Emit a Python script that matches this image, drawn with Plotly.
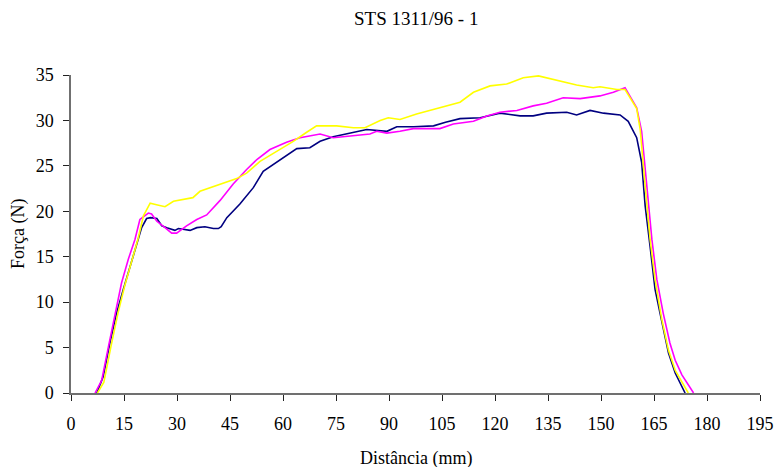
import plotly.graph_objects as go

# Force vs. distance for three specimens of STS 1311/96 - 1
navy_x = [7.3, 9.1, 11.0, 12.9, 14.8, 16.7, 18.6, 20.0, 21.4, 22.5, 24.3, 25.7, 27.1, 29.4, 30.4,
          33.7, 35.6, 37.9, 40.3, 41.7, 42.5, 44.1, 47.8, 51.6, 54.4, 59.2, 63.9, 67.6, 70.5, 74.2,
          79.9, 83.7, 89.4, 92.2, 97.0, 102.6, 106.0, 110.1, 115.8, 121.4, 127.1, 130.8, 134.6,
          140.3, 143.1, 146.9, 150.7, 155.4, 157.7, 160.1, 161.5, 162.5, 163.9, 165.3, 166.7,
          169.1, 171.0, 173.8]
navy_y = [0, 1.8, 5.5, 8.8, 11.4, 13.9, 16.5, 18.2, 19.2, 19.3, 19.2, 18.4, 18.2, 17.9, 18.1,
          17.9, 18.2, 18.3, 18.1, 18.1, 18.3, 19.3, 20.8, 22.6, 24.4, 25.7, 26.9, 27.0, 27.7, 28.2,
          28.7, 29.0, 28.8, 29.3, 29.3, 29.4, 29.8, 30.2, 30.3, 30.8, 30.5, 30.5, 30.8,
          30.9, 30.6, 31.1, 30.8, 30.6, 29.9, 28.1, 25.4, 20.6, 16.1, 11.4, 8.8,
          4.4, 2.2, 0]

magenta_x = [6.8, 8.7, 10.6, 12.5, 14.3, 16.2, 18.1, 19.5, 21.9, 22.8, 24.3, 26.6, 28.5, 29.9,
             32.7, 35.6, 38.4, 42.2, 45.9, 49.7, 52.6, 56.3, 61.0, 64.8, 70.5, 74.2, 79.9, 84.6,
             86.5, 89.4, 93.1, 96.9, 104.4, 108.2, 113.9, 117.7, 121.4, 126.2, 130.8, 134.6,
             139.3, 144.1, 149.7, 153.5, 156.8, 160.1, 161.5, 162.9, 164.4, 165.8, 167.6, 169.5,
             171.0, 172.9, 176.2]
magenta_y = [0, 1.4, 5.1, 8.8, 12.1, 14.7, 16.9, 19.1, 19.8, 19.7, 18.9, 18.2, 17.6, 17.6,
             18.4, 19.1, 19.6, 21.2, 23.0, 24.6, 25.7, 26.8, 27.6, 28.1, 28.5, 28.1, 28.3, 28.5,
             28.8, 28.6, 28.8, 29.1, 29.1, 29.6, 29.9, 30.5, 30.9, 31.1, 31.6, 31.9,
             32.5, 32.4, 32.7, 33.1, 33.6, 31.4, 28.8, 22.8, 16.9, 12.5, 8.8, 5.5,
             3.6, 2.0, 0]

yellow_x = [7.5, 9.3, 11.3, 13.3, 15.2, 17.1, 19.0, 20.5, 22.4, 24.5, 26.6, 29.0, 32.7, 34.5,
            36.5, 41.2, 44.1, 46.9, 49.7, 53.5, 58.2, 62.9, 66.7, 69.5, 75.2, 79.9, 83.2, 87.5,
            89.8, 93.1, 97.8, 104.4, 110.1, 113.9, 118.6, 123.3, 128.0, 132.3, 135.6, 139.3,
            143.1, 147.8, 149.7, 154.5, 156.8, 160.1, 161.1, 162.5, 163.9, 165.3, 167.2, 169.1,
            171.0, 174.7]
yellow_y = [0, 1.2, 5.1, 8.8, 11.8, 14.5, 17.0, 19.5, 20.9, 20.7, 20.5, 21.1, 21.4, 21.5,
            22.2, 22.8, 23.2, 23.6, 24.2, 25.5, 26.6, 27.7, 28.7, 29.4, 29.4, 29.2, 29.2, 30.0,
            30.3, 30.1, 30.7, 31.4, 32.0, 33.1, 33.8, 34.0, 34.7, 34.9, 34.6, 34.3,
            33.9, 33.6, 33.7, 33.4, 33.4, 31.3, 29.0, 22.8, 16.9, 12.5, 8.1, 4.7,
            2.5, 0]

x_ticks = [0, 15, 30, 45, 60, 75, 90, 105, 120, 135, 150, 165, 180, 195]
y_ticks = [0, 5, 10, 15, 20, 25, 30, 35]

FONT = "Liberation Serif, Times New Roman, serif"

fig = go.Figure()
for xs, ys, color in [(navy_x, navy_y, "#000080"),
                      (magenta_x, magenta_y, "#FF00FF"),
                      (yellow_x, yellow_y, "#FFFF00")]:
    fig.add_trace(go.Scatter(x=xs, y=ys, mode="lines",
                             line=dict(color=color, width=1.6),
                             showlegend=False, hoverinfo="skip"))

axis_common = dict(showgrid=False, zeroline=False, showline=True, automargin=False,
                   linecolor="#707070", linewidth=1.5, layer="above traces",
                   ticks="outside", ticklen=6, tickwidth=1, tickcolor="#222",
                   tickfont=dict(family=FONT, size=18, color="black"))

fig.update_xaxes(range=[0, 195], tickvals=x_ticks, ticktext=[str(v) for v in x_ticks],
                 ticklabelstandoff=8, **axis_common)
fig.update_yaxes(range=[0, 35], tickvals=y_ticks, ticktext=[str(v) for v in y_ticks],
                 ticklabelstandoff=6, **axis_common)

fig.update_layout(
    width=777, height=467,
    margin=dict(l=71, r=17, t=75, b=74),
    paper_bgcolor="white", plot_bgcolor="white",
    font=dict(family=FONT, size=18, color="black"),
    annotations=[
        dict(text="STS 1311/96 - 1", xref="paper", yref="paper", x=0.5, y=1,
             xanchor="center", yanchor="middle", yshift=57, showarrow=False,
             font=dict(family=FONT, size=19, color="black")),
        dict(text="Distância (mm)", xref="paper", yref="paper", x=0.5, y=0,
             xanchor="center", yanchor="middle", yshift=-65, showarrow=False,
             font=dict(family=FONT, size=18, color="black")),
        dict(text="Força (N)", xref="paper", yref="paper", x=0, y=0.5,
             xanchor="center", yanchor="middle", xshift=-53, textangle=-90,
             showarrow=False, font=dict(family=FONT, size=18, color="black")),
    ],
)

fig.write_html("out.html")
